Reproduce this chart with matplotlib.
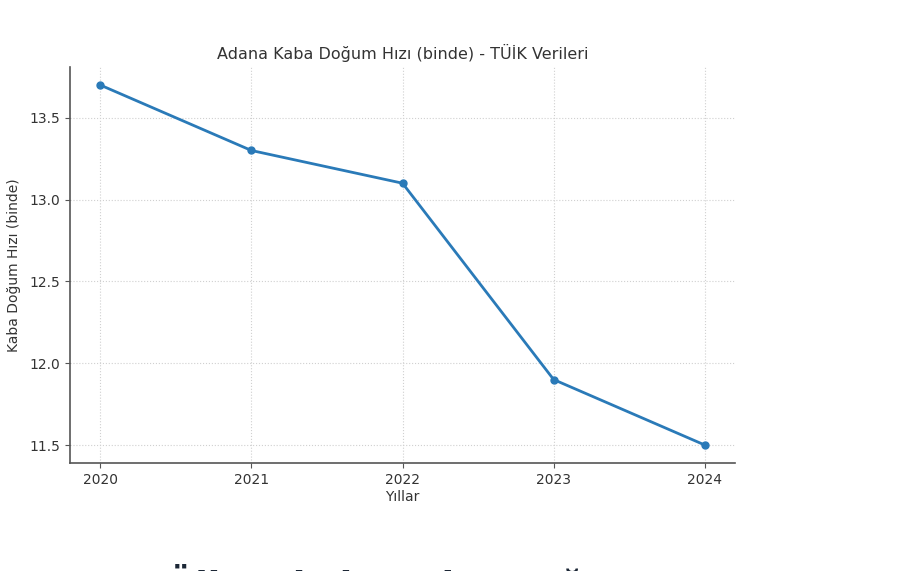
import matplotlib.pyplot as plt

years = [2020, 2021, 2022, 2023, 2024]
birth_rate = [13.7, 13.3, 13.1, 11.9, 11.5]
y_ticks = [11.5, 12.0, 12.5, 13.0, 13.5]

plt.rcParams['font.family'] = ['DejaVu Sans']
plt.rcParams['text.color'] = '#333333'
plt.rcParams['axes.labelcolor'] = '#333333'
plt.rcParams['xtick.color'] = '#555555'
plt.rcParams['ytick.color'] = '#555555'
plt.rcParams['xtick.labelcolor'] = '#333333'
plt.rcParams['ytick.labelcolor'] = '#333333'

fig = plt.figure(figsize=(8.99, 5.71), dpi=100)
ax = fig.add_axes([0.0779, 0.1891, 0.7397, 0.6935])

ax.plot(years, birth_rate, marker='o', markersize=5, linewidth=2, color='#2a7ab8')

ax.set_title('Adana Kaba Doğum Hızı (binde) - TÜİK Verileri', fontsize=11.5, pad=6)
ax.set_xlabel('Yıllar', fontsize=10, labelpad=2)
ax.set_ylabel('Kaba Doğum Hızı (binde)', fontsize=10, labelpad=6)
ax.set_xticks(years)
ax.set_yticks(y_ticks)
ax.tick_params(labelsize=10)
ax.grid(True, linestyle=':', color='#d0d0d0', linewidth=0.8)

for side in ['top', 'right']:
    ax.spines[side].set_visible(False)
for side in ['left', 'bottom']:
    ax.spines[side].set_color('#555555')
    ax.spines[side].set_linewidth(1.2)

# heading below the chart, cut off by the screenshot edge in the reference
fig.text(0.185, -0.058, 'Ülkemizde Kaba Doğum Hızı', fontsize=26, fontweight='bold',
         color='#1c2736', ha='left', va='bottom')

fig.savefig('out.png', dpi=100)
